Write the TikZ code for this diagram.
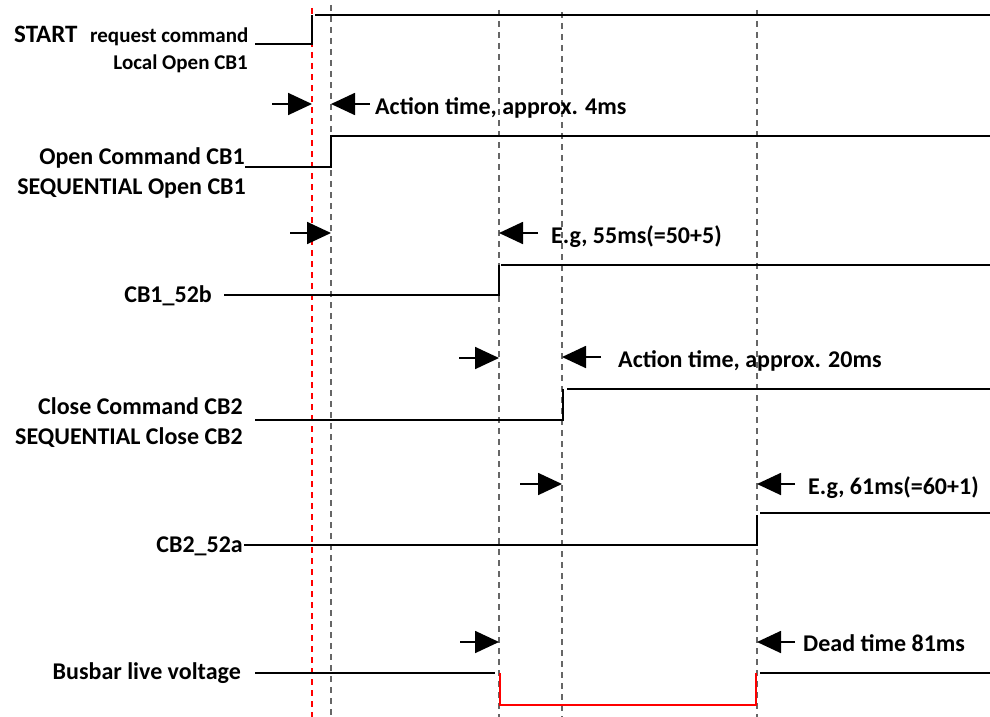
\documentclass[tikz,border=0pt]{standalone}
\usepackage{fontspec}
\setmainfont{Carlito}
\usetikzlibrary{arrows.meta}
\begin{document}
\begin{tikzpicture}[x=1pt,y=-1pt,
  sig/.style={line width=1.8pt,black},
  redsig/.style={line width=2.2pt,red},
  guide/.style={line width=1.5pt,gray!80!black,dash pattern=on 6pt off 5pt},
  redguide/.style={line width=1.5pt,red,dash pattern=on 6pt off 5pt},
  dim/.style={line width=1.8pt,-{Triangle[length=24pt,width=22pt]}},
  lbl/.style={font=\bfseries\fontsize{24}{26}\selectfont,inner sep=0pt},
  lbls/.style={font=\bfseries\fontsize{21}{23}\selectfont,inner sep=0pt}]
\useasboundingbox (0,0) rectangle (990,717);
% time markers
\coordinate (t0top) at (312,8);   \coordinate (t0bot) at (312,717);
\coordinate (t1top) at (331,5);   \coordinate (t1bot) at (331,717);
\coordinate (t2top) at (499,10);  \coordinate (t2bot) at (499,717);
\coordinate (t3top) at (562,12);  \coordinate (t3bot) at (562,717);
\coordinate (t4top) at (757,10);  \coordinate (t4bot) at (757,717);
\draw[guide] (t1top) -- (t1bot);
\draw[guide] (t2top) -- (t2bot);
\draw[guide] (t3top) -- (t3bot);
\draw[guide] (t4top) -- (t4bot);
\draw[redguide] (t0top) -- (t0bot);

% signal 1: START
\node[lbl,font=\bfseries\fontsize{25}{27}\selectfont,anchor=mid west] (start) at (14,40) {START};
\node[lbls,anchor=mid west] (req) at (90,40) {request command};
\node[lbls,anchor=mid east] (loc) at (248,67) {Local Open CB1};
\coordinate (s1a) at (255,44); \coordinate (s1b) at (312,44);
\coordinate (s1c) at (312,15); \coordinate (s1d) at (315,15); \coordinate (s1e) at (990,15);
\draw[sig] (s1a) -- (s1b) -- (s1c);
\draw[sig] (s1d) -- (s1e);

% arrows 1
\coordinate (a1l) at (272,104); \coordinate (a1lt) at (312,104);
\coordinate (a1r) at (370,104); \coordinate (a1rt) at (331,104);
\draw[dim] (a1l) -- (a1lt);
\draw[dim] (a1r) -- (a1rt);
\node[lbl,anchor=mid west] (txt1) at (375,112) {Action time, approx. 4ms};

% signal 2: Open command CB1
\node[lbl,anchor=mid east] (oc) at (245,162) {Open Command CB1};
\node[lbl,anchor=mid east] (seqo) at (246,192) {SEQUENTIAL Open CB1};
\coordinate (s2a) at (245,167); \coordinate (s2b) at (331,167);
\coordinate (s2c) at (331,136); \coordinate (s2d) at (990,136);
\draw[sig] (s2a) -- (s2b) -- (s2c) -- (s2d);

% arrows 2
\coordinate (a2l) at (290,233); \coordinate (a2lt) at (331,233);
\coordinate (a2r) at (538,233); \coordinate (a2rt) at (499,233);
\draw[dim] (a2l) -- (a2lt);
\draw[dim] (a2r) -- (a2rt);
\node[lbl,anchor=mid west] (txt2) at (551,241) {E.g, 55ms(=50+5)};

% signal 3: CB1_52b
\node[lbl,anchor=mid east] (cb1) at (212,300) {CB1\_52b};
\coordinate (s3a) at (224,295); \coordinate (s3b) at (499,295);
\coordinate (s3c) at (499,265); \coordinate (s3d) at (501,265); \coordinate (s3e) at (990,265);
\draw[sig] (s3a) -- (s3b) -- (s3c);
\draw[sig] (s3d) -- (s3e);

% arrows 3
\coordinate (a3l) at (459,358); \coordinate (a3lt) at (499,358);
\coordinate (a3r) at (601,357); \coordinate (a3rt) at (562,357);
\draw[dim] (a3l) -- (a3lt);
\draw[dim] (a3r) -- (a3rt);
\node[lbl,anchor=mid west] (txt3) at (618,365) {Action time, approx. 20ms};

% signal 4: Close command CB2
\node[lbl,anchor=mid east] (cc) at (243,412) {Close Command CB2};
\node[lbl,anchor=mid east] (seqc) at (243,442) {SEQUENTIAL Close CB2};
\coordinate (s4a) at (255,420); \coordinate (s4b) at (563,420);
\coordinate (s4c) at (563,389); \coordinate (s4d) at (567,389); \coordinate (s4e) at (990,389);
\draw[sig] (s4a) -- (s4b) -- (s4c);
\draw[sig] (s4d) -- (s4e);

% arrows 4
\coordinate (a4l) at (520,484); \coordinate (a4lt) at (562,484);
\coordinate (a4r) at (795,484); \coordinate (a4rt) at (757,484);
\draw[dim] (a4l) -- (a4lt);
\draw[dim] (a4r) -- (a4rt);
\node[lbl,anchor=mid west] (txt4) at (808,492) {E.g, 61ms(=60+1)};

% signal 5: CB2_52a
\node[lbl,anchor=mid east] (cb2) at (243,550) {CB2\_52a};
\coordinate (s5a) at (244,545); \coordinate (s5b) at (757,545);
\coordinate (s5c) at (757,515); \coordinate (s5d) at (760,513); \coordinate (s5e) at (990,513);
\draw[sig] (s5a) -- (s5b) -- (s5c);
\draw[sig] (s5d) -- (s5e);

% arrows 5
\coordinate (a5l) at (460,642); \coordinate (a5lt) at (499,642);
\coordinate (a5r) at (795,642); \coordinate (a5rt) at (757,642);
\draw[dim] (a5l) -- (a5lt);
\draw[dim] (a5r) -- (a5rt);
\node[lbl,anchor=mid west] (txt5) at (803,649) {Dead time 81ms};

% signal 6: Busbar
\node[lbl,anchor=mid east] (bus) at (241,677) {Busbar live voltage};
\coordinate (s6a) at (255,673); \coordinate (s6b) at (495,673);
\coordinate (s6c) at (500,673); \coordinate (s6d) at (500,705);
\coordinate (s6e) at (756,705); \coordinate (s6f) at (756,673);
\coordinate (s6g) at (760,673); \coordinate (s6h) at (990,673);
\draw[sig] (s6a) -- (s6b);
\draw[redsig] (s6c) -- (s6d) -- (s6e) -- (s6f);
\draw[sig] (s6g) -- (s6h);
\end{tikzpicture}
\end{document}
